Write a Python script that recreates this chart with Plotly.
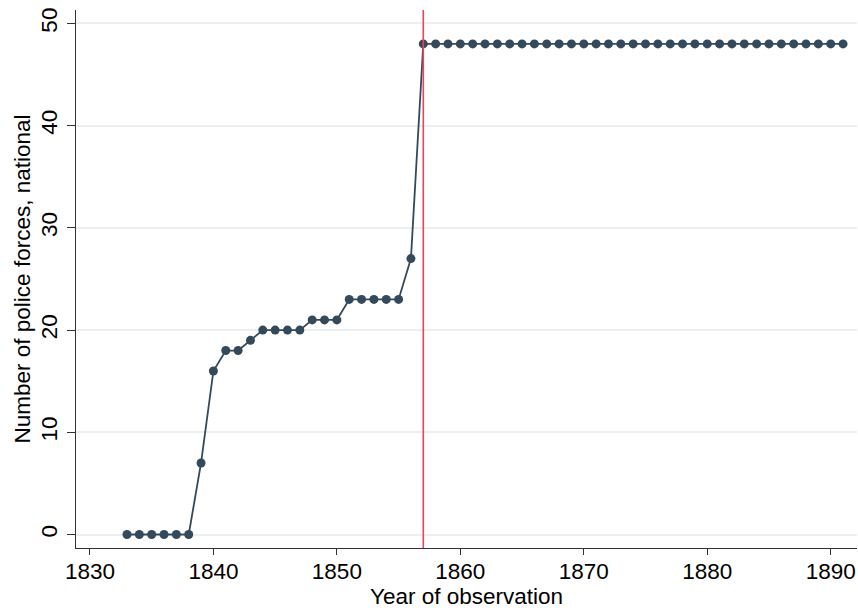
import plotly.graph_objects as go

years = list(range(1833, 1892))
values = [0, 0, 0, 0, 0, 0, 7, 16, 18, 18, 19, 20, 20, 20, 20, 21, 21, 21,
          23, 23, 23, 23, 23, 27] + [48] * 35
event_year = 1857
x_ticks = [1830, 1840, 1850, 1860, 1870, 1880, 1890]
y_ticks = [0, 10, 20, 30, 40, 50]

font_family = "Liberation Sans, Arial, Helvetica, sans-serif"
dark = "#34495a"
fs = 22.5

fig = go.Figure()
fig.add_trace(go.Scatter(
    x=years, y=values, mode="lines+markers",
    line=dict(color=dark, width=1.8),
    marker=dict(color=dark, size=9),
    showlegend=False,
))
fig.add_shape(type="line", xref="x", yref="paper", x0=event_year, x1=event_year,
              y0=0, y1=1, line=dict(color="#ea4459", width=1.6))

fig.update_layout(
    width=858, height=610,
    margin=dict(l=76, r=1, t=10, b=62),
    paper_bgcolor="white", plot_bgcolor="white",
    font=dict(family=font_family, size=fs, color="black"),
)
fig.update_xaxes(
    range=[1828.87, 1892.13], tickvals=x_ticks, ticks="outside", ticklen=6,
    tickwidth=1, tickcolor="#333", showline=True, linecolor="#333", linewidth=1,
    showgrid=False, zeroline=False, automargin=False, ticklabelstandoff=-3,
    title=dict(text="Year of observation", standoff=0, font=dict(size=fs)),
    tickfont=dict(size=fs),
)
fig.update_yaxes(
    range=[-1.32, 51.32], tickvals=y_ticks, ticks="outside", ticklen=8,
    tickwidth=1, tickcolor="#333", showline=True, linecolor="#333", linewidth=1,
    showgrid=True, gridcolor="#eaf0f2", gridwidth=1.5, zeroline=False,
    tickangle=-90, automargin=False, ticklabelstandoff=1,
    title=dict(text="Number of police forces, national", standoff=0, font=dict(size=fs)),
    tickfont=dict(size=fs),
)
fig.write_html("out.html", config={"displayModeBar": False},
               post_script="document.body.style.margin='0';")
